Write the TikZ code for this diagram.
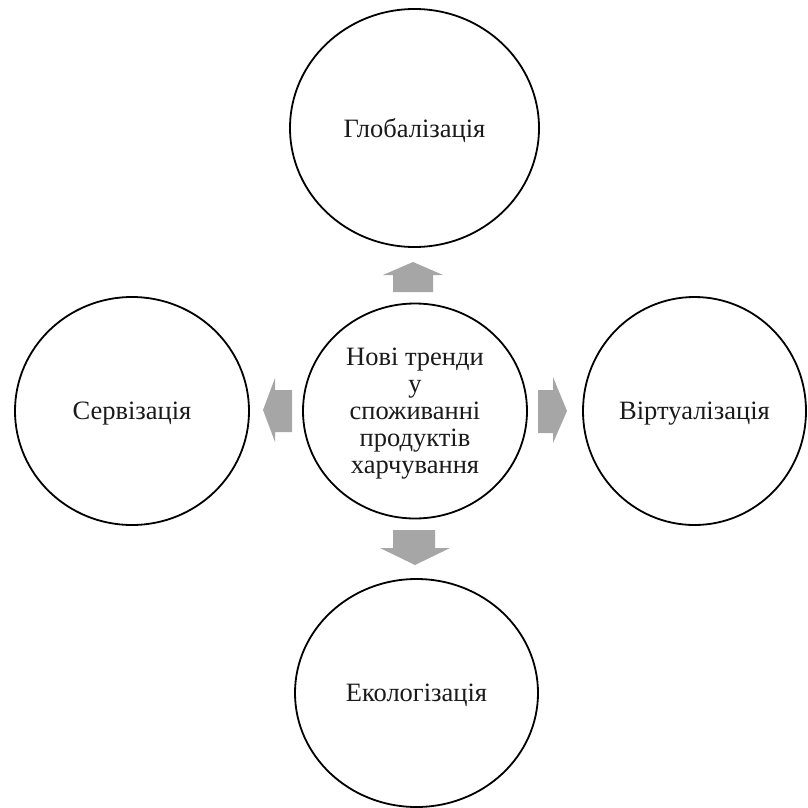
\documentclass[tikz,border=0pt]{standalone}
\usepackage{fontspec}
\setmainfont{Liberation Serif}
\usetikzlibrary{shapes.geometric}
\definecolor{arrowgray}{HTML}{A6A6A6}
\definecolor{textdark}{HTML}{1A1A1A}
\tikzset{
  trend/.style={ellipse, draw=black, line width=1.8pt, inner sep=0pt, outer sep=0pt,
    text=textdark, align=center, text depth=0pt, font=\fontsize{26.5}{27}\selectfont},
  blockarrow/.style={fill=arrowgray, draw=none}
}
\begin{document}
\begin{tikzpicture}[x=1pt,y=-1pt]
\useasboundingbox (0,0) rectangle (807,808);
\fill[white] (0,0) rectangle (807,808);
% circles
\node[trend, minimum width=249pt, minimum height=238pt] (glob) at (414.5,128) {Глобалізація};
\node[trend, minimum width=234pt, minimum height=228pt] (serv) at (132,411) {Сервізація};
\node[trend, minimum width=223pt, minimum height=228pt] (virt) at (694.5,411) {Віртуалізація};
\node[trend, minimum width=243pt, minimum height=228pt] (ekol) at (416.5,693) {Екологізація};
\node[trend, minimum width=224pt, minimum height=215pt] (core) at (415,411) {Нові тренди\\у\\споживанні\\продуктів\\харчування};
% block arrows
\fill[blockarrow] (393,292) -- (393,275) -- (383,275) -- (413,262) -- (443,275) -- (433,275) -- (433,292) -- cycle;
\fill[blockarrow] (393,530) -- (393,548) -- (380,548) -- (415,565) -- (450,548) -- (435,548) -- (435,530) -- cycle;
\fill[blockarrow] (292,390) -- (275,390) -- (275,378) -- (263,410) -- (275,442) -- (275,432) -- (292,432) -- cycle;
\fill[blockarrow] (538,390) -- (553,390) -- (553,377) -- (567,411) -- (553,443) -- (553,433) -- (538,433) -- cycle;
\end{tikzpicture}
\end{document}
